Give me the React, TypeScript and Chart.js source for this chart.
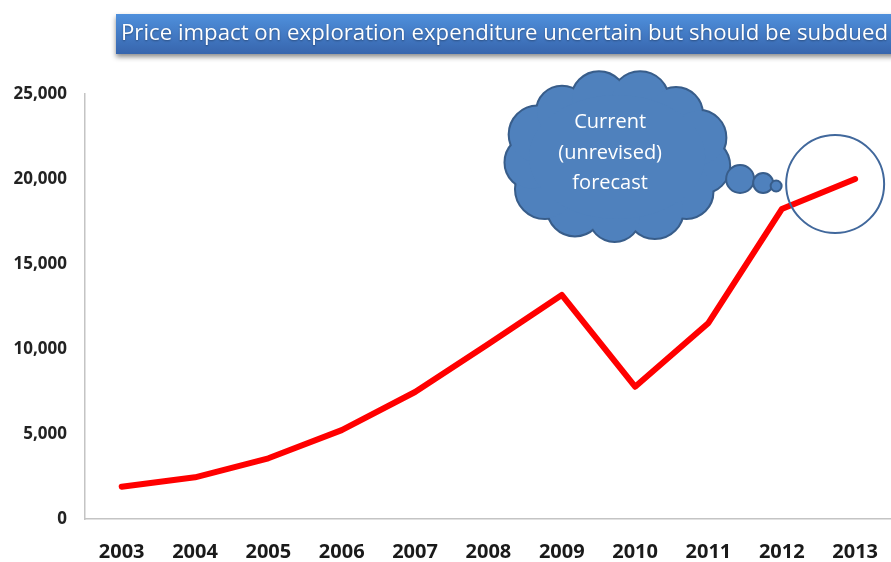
import React, { useEffect, useRef } from "react";
import { Chart, registerables } from "chart.js";

Chart.register(...registerables);

const years = ["2003", "2004", "2005", "2006", "2007", "2008", "2009", "2010", "2011", "2012", "2013"];
const expenditure = [1900, 2450, 3570, 5230, 7470, 10300, 13180, 7780, 11530, 18230, 20000];
const yMin = 0;
const yMax = 25000;
const yStep = 5000;
const titleText = "Price impact on exploration expenditure uncertain but should be subdued";
const cloudLines = ["Current", "(unrevised)", "forecast"];
const highlightIndex = 10;

const FONT = "'Open Sans', 'Noto Sans', sans-serif";

const overlayPlugin = {
  id: "overlay",
  beforeDraw(chart: any) {
    const ctx = chart.ctx;
    ctx.save();
    const bx = 116, by = 14, bh = 40;
    const grad = ctx.createLinearGradient(0, by, 0, by + bh);
    grad.addColorStop(0, "#4f90dc");
    grad.addColorStop(1, "#3765ad");
    ctx.shadowColor = "rgba(0,0,0,0.45)";
    ctx.shadowBlur = 5;
    ctx.shadowOffsetY = 3;
    ctx.fillStyle = grad;
    ctx.fillRect(bx, by, chart.width - bx, bh);
    ctx.restore();

    ctx.save();
    ctx.font = `21px ${FONT}`;
    const w = ctx.measureText(titleText).width;
    ctx.translate(121, 34);
    ctx.scale(767 / w, 1.05);
    ctx.fillStyle = "#ffffff";
    ctx.textBaseline = "middle";
    ctx.textAlign = "left";
    ctx.shadowColor = "rgba(0,0,0,0.35)";
    ctx.shadowBlur = 2;
    ctx.shadowOffsetY = 1;
    ctx.fillText(titleText, 0, 0);
    ctx.restore();
  },
  afterDatasetsDraw(chart: any) {
    const ctx = chart.ctx;
    const xs = chart.scales.x;
    const ys = chart.scales.y;
    const px = xs.getPixelForValue(highlightIndex);
    const py = ys.getPixelForValue(expenditure[highlightIndex]);
    const ccx = px - 20, ccy = py + 5;

    ctx.save();
    ctx.strokeStyle = "#41689c";
    ctx.lineWidth = 2;
    ctx.beginPath();
    ctx.arc(ccx, ccy, 49, 0, Math.PI * 2);
    ctx.stroke();
    ctx.restore();

    const fill = "#4f81bd";
    const stroke = "#385d8a";
    const cx = ccx - 218, cy = ccy - 27;
    const radii = [27, 26, 28, 25, 27, 29, 26, 28, 25, 27, 28, 26, 27];
    const bumps = radii.map((r, i) => {
      const a = (i * 2 * Math.PI) / radii.length + 0.15;
      return { x: cx + 86 * Math.cos(a), y: cy + 59 * Math.sin(a), r };
    });
    const smalls = [
      { x: ccx - 95, y: ccy - 5, r: 14 },
      { x: ccx - 72, y: ccy - 1, r: 10 },
      { x: ccx - 59, y: ccy + 2, r: 5.5 },
    ];
    ctx.save();
    ctx.strokeStyle = stroke;
    ctx.lineWidth = 4;
    bumps.forEach((b) => {
      ctx.beginPath();
      ctx.arc(b.x, b.y, b.r, 0, Math.PI * 2);
      ctx.stroke();
    });
    ctx.fillStyle = fill;
    bumps.forEach((b) => {
      ctx.beginPath();
      ctx.arc(b.x, b.y, b.r, 0, Math.PI * 2);
      ctx.fill();
    });
    ctx.beginPath();
    ctx.ellipse(cx, cy, 88, 62, 0, 0, Math.PI * 2);
    ctx.fill();
    ctx.lineWidth = 2;
    smalls.forEach((b) => {
      ctx.beginPath();
      ctx.arc(b.x, b.y, b.r, 0, Math.PI * 2);
      ctx.fill();
      ctx.stroke();
    });
    ctx.fillStyle = "#ffffff";
    ctx.font = `20px ${FONT}`;
    ctx.textAlign = "center";
    ctx.textBaseline = "middle";
    const offs = [-35, -4, 26];
    cloudLines.forEach((t, i) => ctx.fillText(t, cx - 7, cy + offs[i]));
    ctx.restore();
  },
};

export default function App() {
  const ref = useRef<HTMLCanvasElement | null>(null);
  useEffect(() => {
    if (!ref.current) return;
    Chart.defaults.font.family = FONT;
    const chart = new Chart(ref.current, {
      type: "line",
      data: {
        labels: years,
        datasets: [
          {
            data: expenditure,
            borderColor: "#ff0000",
            borderWidth: 6,
            borderCapStyle: "round",
            borderJoinStyle: "round",
            pointRadius: 0,
            tension: 0,
            fill: false,
          },
        ],
      },
      options: {
        responsive: false,
        animation: false,
        layout: { padding: { top: 94, left: 0, right: 0, bottom: 0 } },
        plugins: { legend: { display: false }, tooltip: { enabled: false }, title: { display: false } },
        scales: {
          x: {
            offset: true,
            grid: { display: false, drawTicks: false },
            border: { display: true, color: "#c4c4c4", width: 1.5 },
            ticks: { color: "#1a1a1a", font: { size: 20, weight: "bold" }, padding: 21, maxRotation: 0 },
            afterFit: (s: any) => { s.height = 43; },
          },
          y: {
            min: yMin,
            max: yMax,
            grid: { display: false, drawTicks: false },
            border: { display: true, color: "#c4c4c4", width: 1.5 },
            ticks: {
              stepSize: yStep,
              color: "#222222",
              font: { size: 17, weight: "bold" },
              padding: 18,
              callback: (v: any) => Number(v).toLocaleString("en-US"),
            },
            afterFit: (s: any) => { s.width = 85; },
          },
        },
      },
      plugins: [overlayPlugin],
    });
    return () => chart.destroy();
  }, []);
  return (
    <div style={{ position: "absolute", left: 0, top: 0, width: 891, height: 562, overflow: "hidden", background: "#fff" }}>
      <canvas ref={ref} width={899} height={562} style={{ display: "block" }} />
    </div>
  );
}
